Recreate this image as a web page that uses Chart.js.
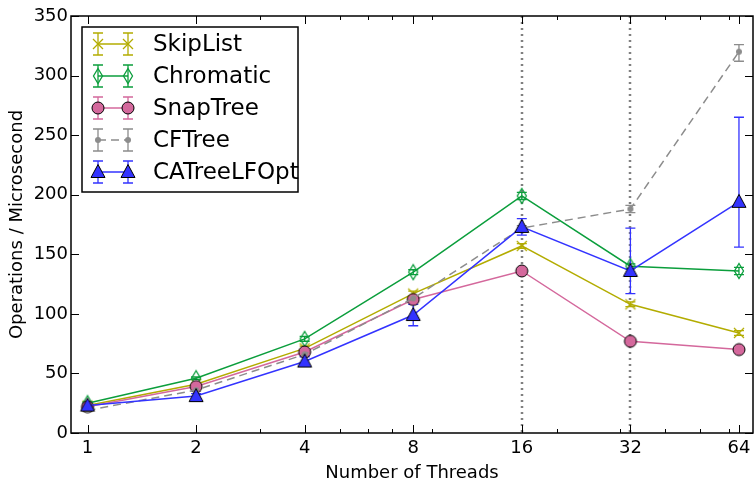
<!DOCTYPE html>
<html>
<head>
<meta charset="utf-8">
<script src="https://cdn.jsdelivr.net/npm/chart.js@4.4.0/dist/chart.umd.min.js"></script>
<style>
  html, body { margin: 0; padding: 0; background: #fff; }
</style>
</head>
<body>
<canvas id="chart" width="754" height="482"></canvas>
<script>
const threads = [1, 2, 4, 8, 16, 32, 64];
const minorThreads = [3, 5, 6, 7, 9, 20, 30, 40, 50, 60];
const guideThreads = [16, 32];
const yTicks = [0, 50, 100, 150, 200, 250, 300, 350];

const skipList = [23, 41, 71, 117, 157, 108, 84];
const skipListLo = [22, 40, 69, 115, 155, 106, 82];
const skipListHi = [24, 42, 73, 119, 159, 110, 86];

const chromatic = [25, 46, 79, 135, 199, 140, 136];
const chromaticLo = [24, 45, 77, 133, 196, 138, 133];
const chromaticHi = [26, 47, 81, 137, 202, 142, 139];

const snapTree = [22, 39, 68, 112, 136, 77, 70];
const snapTreeLo = [21, 38, 67, 110, 134, 76, 69];
const snapTreeHi = [23, 40, 69, 114, 138, 78, 71];

const cfTree = [19, 36, 66, 113, 172, 188, 320];
const cfTreeLo = [18, 35, 65, 111, 170, 185, 312];
const cfTreeHi = [20, 37, 67, 115, 174, 191, 326];

const caTree = [23, 31, 60, 99, 173, 136, 194];
const caTreeLo = [21, 29, 56, 90, 166, 117, 156];
const caTreeHi = [25, 33, 64, 108, 180, 172, 265];

const FONT = "'DejaVu Sans', sans-serif";

// small canvases used as point markers (and reused in the legend)
function marker(kind, color) {
  const c = document.createElement('canvas');
  c.width = 18; c.height = 18;
  const g = c.getContext('2d');
  g.translate(9, 9);
  g.lineWidth = 1.3;
  g.beginPath();
  if (kind === 'x') {
    g.strokeStyle = color;
    g.moveTo(-5, -5); g.lineTo(5, 5);
    g.moveTo(-5, 5); g.lineTo(5, -5);
    g.stroke();
  } else if (kind === 'thinDiamond') {
    g.strokeStyle = color;
    g.moveTo(0, -7.5); g.lineTo(4.5, 0); g.lineTo(0, 7.5); g.lineTo(-4.5, 0); g.closePath();
    g.stroke();
  } else if (kind === 'circle') {
    g.fillStyle = color; g.strokeStyle = '#000'; g.lineWidth = 1;
    g.arc(0, 0, 6, 0, Math.PI * 2);
    g.fill(); g.stroke();
  } else if (kind === 'dot') {
    g.fillStyle = color;
    g.arc(0, 0, 3, 0, Math.PI * 2);
    g.fill();
  } else if (kind === 'triangle') {
    g.fillStyle = color; g.strokeStyle = '#000'; g.lineWidth = 1;
    g.moveTo(0, -7.5); g.lineTo(7, 5.5); g.lineTo(-7, 5.5); g.closePath();
    g.fill(); g.stroke();
  }
  return c;
}

const series = [
  { label: 'SkipList', values: skipList, lo: skipListLo, hi: skipListHi, color: '#b3ac00', kind: 'x', dash: [] },
  { label: 'Chromatic', values: chromatic, lo: chromaticLo, hi: chromaticHi, color: '#0b9e3c', kind: 'thinDiamond', dash: [] },
  { label: 'SnapTree', values: snapTree, lo: snapTreeLo, hi: snapTreeHi, color: '#d4689c', kind: 'circle', dash: [] },
  { label: 'CFTree', values: cfTree, lo: cfTreeLo, hi: cfTreeHi, color: '#8c8c8c', kind: 'dot', dash: [8, 5] },
  { label: 'CATreeLFOpt', values: caTree, lo: caTreeLo, hi: caTreeHi, color: '#3333ff', kind: 'triangle', dash: [] }
];
series.forEach(s => { s.img = marker(s.kind, s.color); });

function errorBar(ctx, px, top, bottom, color) {
  ctx.strokeStyle = color;
  ctx.lineWidth = 1.3;
  ctx.beginPath();
  ctx.moveTo(px, top); ctx.lineTo(px, bottom);
  ctx.moveTo(px - 5, top); ctx.lineTo(px + 5, top);
  ctx.moveTo(px - 5, bottom); ctx.lineTo(px + 5, bottom);
  ctx.stroke();
}

const decorations = {
  id: 'decorations',
  beforeDatasetsDraw(chart) {
    const { ctx, chartArea: a, scales: { x, y } } = chart;
    ctx.save();
    ctx.strokeStyle = '#808080';
    ctx.lineWidth = 2.5;
    ctx.setLineDash([2, 4]);
    guideThreads.forEach(t => {
      const px = Math.round(x.getPixelForValue(t));
      ctx.beginPath(); ctx.moveTo(px, a.top); ctx.lineTo(px, a.bottom); ctx.stroke();
    });
    ctx.setLineDash([]);
    series.forEach(s => {
      threads.forEach((t, i) => {
        errorBar(ctx, x.getPixelForValue(t), y.getPixelForValue(s.hi[i]), y.getPixelForValue(s.lo[i]), s.color);
      });
    });
    ctx.restore();
  },
  afterDraw(chart) {
    const { ctx, chartArea: a, scales: { x, y } } = chart;
    ctx.save();
    ctx.strokeStyle = '#000';
    ctx.lineWidth = 1.5;
    ctx.strokeRect(a.left, a.top, a.right - a.left, a.bottom - a.top);
    ctx.lineWidth = 1;
    ctx.beginPath();
    // inward ticks on all four sides
    threads.forEach(t => {
      const px = Math.round(x.getPixelForValue(t)) + 0.5;
      ctx.moveTo(px, a.bottom); ctx.lineTo(px, a.bottom - 8);
      ctx.moveTo(px, a.top); ctx.lineTo(px, a.top + 8);
    });
    minorThreads.forEach(t => {
      const px = Math.round(x.getPixelForValue(t)) + 0.5;
      ctx.moveTo(px, a.bottom); ctx.lineTo(px, a.bottom - 4);
      ctx.moveTo(px, a.top); ctx.lineTo(px, a.top + 4);
    });
    yTicks.forEach(v => {
      const py = Math.round(y.getPixelForValue(v)) + 0.5;
      ctx.moveTo(a.left, py); ctx.lineTo(a.left + 8, py);
      ctx.moveTo(a.right, py); ctx.lineTo(a.right - 8, py);
    });
    ctx.stroke();

    // legend box
    const box = { left: 82, top: 27, width: 216, height: 165 };
    ctx.fillStyle = '#fff';
    ctx.fillRect(box.left, box.top, box.width, box.height);
    ctx.lineWidth = 1.5;
    ctx.strokeStyle = '#000';
    ctx.strokeRect(box.left, box.top, box.width, box.height);
    series.forEach((s, i) => {
      const cy = 44 + i * 32;
      const x0 = 98, x1 = 128;
      ctx.strokeStyle = s.color;
      ctx.lineWidth = 1.5;
      ctx.setLineDash(s.dash);
      ctx.beginPath(); ctx.moveTo(x0, cy); ctx.lineTo(x1, cy); ctx.stroke();
      ctx.setLineDash([]);
      errorBar(ctx, x0, cy - 11, cy + 11, s.color);
      errorBar(ctx, x1, cy - 11, cy + 11, s.color);
      ctx.drawImage(s.img, x0 - 9, cy - 9);
      ctx.drawImage(s.img, x1 - 9, cy - 9);
      ctx.fillStyle = '#000';
      ctx.font = '23px ' + FONT;
      ctx.textBaseline = 'middle';
      ctx.textAlign = 'left';
      ctx.fillText(s.label, 153, cy + 1);
    });
    ctx.restore();
  }
};

new Chart(document.getElementById('chart'), {
  type: 'line',
  data: {
    datasets: series.map((s, i) => ({
      label: s.label,
      data: threads.map((t, j) => ({ x: t, y: s.values[j] })),
      borderColor: s.color,
      borderWidth: 1.5,
      borderDash: s.dash,
      pointStyle: s.img,
      pointRadius: 6,
      fill: false,
      tension: 0,
      order: series.length - i
    }))
  },
  options: {
    responsive: false,
    devicePixelRatio: 1,
    animation: false,
    layout: { autoPadding: false, padding: { top: 16, right: 1, left: 0, bottom: 0 } },
    plugins: { legend: { display: false }, tooltip: { enabled: false } },
    scales: {
      x: {
        type: 'logarithmic',
        min: 0.9,
        max: 70,
        afterBuildTicks: scale => { scale.ticks = threads.map(v => ({ value: v })); },
        afterFit: scale => { scale.height = 49; },
        // invisible tick marks: they only space the labels below the axis
        grid: { display: true, drawOnChartArea: false, drawTicks: true, tickLength: 5, color: 'rgba(0,0,0,0)' },
        border: { display: false },
        ticks: {
          color: '#000',
          font: { family: FONT, size: 18 },
          padding: 0,
          maxRotation: 0,
          autoSkip: false,
          callback: v => String(v)
        },
        title: {
          display: true,
          text: 'Number of Threads',
          color: '#000',
          font: { family: FONT, size: 18 },
          padding: { top: 0, bottom: -2 }
        }
      },
      y: {
        min: 0,
        max: 350,
        afterBuildTicks: scale => { scale.ticks = yTicks.map(v => ({ value: v })); },
        afterFit: scale => { scale.width = 71; },
        grid: { display: false, drawTicks: false },
        border: { display: false },
        ticks: {
          color: '#000',
          font: { family: FONT, size: 18 },
          padding: 3
        },
        title: {
          display: true,
          text: 'Operations / Microsecond',
          color: '#000',
          font: { family: FONT, size: 18 },
          padding: { top: 7, bottom: 0 }
        }
      }
    }
  },
  plugins: [decorations]
});
</script>
</body>
</html>
